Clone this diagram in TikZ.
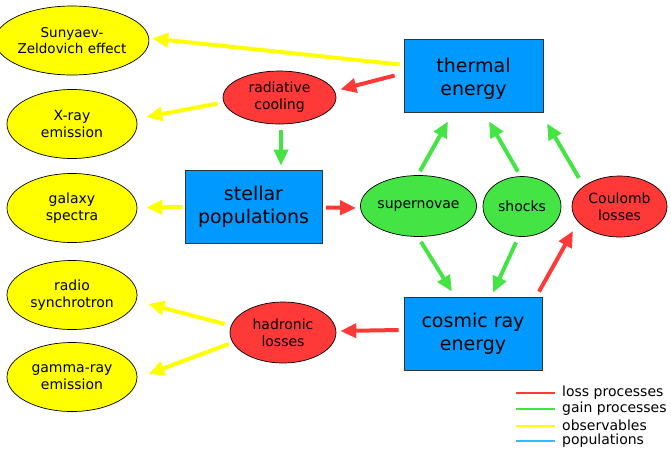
\documentclass[tikz,border=0pt]{standalone}
\usepackage{fontspec}
\setmainfont{DejaVu Sans}
\usetikzlibrary{shapes.geometric,arrows.meta}
\definecolor{cyel}{HTML}{FFFF00}
\definecolor{cred}{HTML}{FF3838}
\definecolor{cgreen}{HTML}{44E444}
\definecolor{cblue}{HTML}{0099FF}
\definecolor{cblueleg}{HTML}{33BBFF}
\begin{document}
\begin{tikzpicture}[x=1pt,y=-1pt,
  txt/.style={font=\fontsize{14}{17}\selectfont, align=center, inner sep=0pt},
  yell/.style={txt, ellipse, draw=black, line width=0.7pt, fill=cyel, minimum width=130pt, minimum height=69pt},
  redell/.style={txt, ellipse, draw=black, line width=0.7pt, fill=cred},
  greenell/.style={txt, ellipse, draw=black, line width=0.7pt, fill=cgreen},
  bbox/.style={font=\fontsize{19}{23}\selectfont, align=center, inner sep=0pt, draw=black!80, line width=0.8pt, fill=cblue},
  arr/.style={line width=4pt, -{Triangle[length=16pt,width=14pt]}},
  obs/.style={arr, draw=cyel, fill=cyel},
  gain/.style={arr, draw=cgreen, fill=cgreen},
  loss/.style={arr, draw=cred, fill=cred},
  leg/.style={line width=2pt},
  legtxt/.style={font=\fontsize{14}{17}\selectfont, anchor=west, inner sep=0pt}
]
\useasboundingbox (0,0) rectangle (671,451);

% observables
\node[yell, font=\fontsize{13.5}{16.5}\selectfont] (sz) at (72,40.5) {Sunyaev-\\Zeldovich effect};
\node[yell] (xray) at (72,124) {X-ray\\emission};
\node[yell] (gal) at (72,208) {galaxy\\spectra};
\node[yell] (radio) at (72,295) {radio\\synchrotron};
\node[yell] (gamma) at (72,377) {gamma-ray\\emission};

% populations
\node[bbox, minimum width=139pt, minimum height=73pt] (thermal) at (473.5,75.5) {\rule{0pt}{20.5pt}thermal\\energy};
\node[bbox, minimum width=137pt, minimum height=73pt] (stellar) at (253.5,206.5) {stellar\\populations};
\node[bbox, minimum width=138pt, minimum height=73pt] (cosmic) at (473,333.5) {cosmic ray\\energy};

% processes
\node[redell, minimum width=113pt, minimum height=53pt] (rad) at (279.5,97.5) {radiative\\cooling};
\node[redell, minimum width=106pt, minimum height=61pt] (had) at (283,332.5) {hadronic\\losses};
\node[greenell, minimum width=109pt, minimum height=61pt] (sn) at (418.5,206) {supernovae};
\node[greenell, minimum width=78pt, minimum height=60pt] (shocks) at (522,206.5) {shocks};
\node[redell, minimum width=95pt, minimum height=61pt] (coul) at (619.5,206.5) {Coulomb\\losses};

% connectors
\draw[obs] ([shift={(-4,-11)}]thermal.west) -- ([shift={(3,-2)}]sz.east);
\draw[loss] ([shift={(-9,0)}]thermal.west) -- ([shift={(4,-8)}]rad.east);
\draw[obs] ([shift={(-5,6)}]rad.west) -- ([shift={(9,-7)}]xray.east);
\draw[gain] ([shift={(1.5,6)}]rad.south) -- ([shift={(27.5,-4)}]stellar.north);
\draw[obs] ([shift={(-2,0.5)}]stellar.west) -- ([shift={(9,-0.5)}]gal.east);
\draw[loss] ([shift={(3.5,1)}]stellar.east) -- ([shift={(-4,2)}]sn.west);
\draw[gain] ([shift={(1.5,-4)}]sn.north) -- ([shift={(-25.5,9)}]thermal.south);
\draw[gain] ([shift={(-4,-4.5)}]shocks.north) -- ([shift={(15.5,9)}]thermal.south);
\draw[gain] ([shift={(-40.5,-28.5)}]coul.center) -- ([shift={(73.5,11)}]thermal.south);
\draw[gain] ([shift={(2.5,5)}]sn.south) -- ([shift={(-21,-5)}]cosmic.north);
\draw[gain] ([shift={(-6,5.5)}]shocks.south) -- ([shift={(20,-4)}]cosmic.north);
\draw[loss] ([shift={(66,-5)}]cosmic.north) -- ([shift={(-46.5,24.5)}]coul.center);
\draw[loss] ([shift={(-5,-3.5)}]cosmic.west) -- ([shift={(4,-1.5)}]had.east);
\draw[obs] ([shift={(-5,-8.5)}]had.west) -- ([shift={(11,9)}]radio.east);
\draw[obs] ([shift={(-1,11.5)}]had.west) -- ([shift={(11,-3)}]gamma.east);

% legend
\coordinate (l1a) at (516,393); \coordinate (l1b) at (555,393);
\coordinate (l2a) at (516,409); \coordinate (l2b) at (555,409);
\coordinate (l3a) at (516,425.5); \coordinate (l3b) at (555,425.5);
\coordinate (l4a) at (516,441); \coordinate (l4b) at (555,441);
\draw[leg, cred] (l1a) -- (l1b);
\draw[leg, cgreen] (l2a) -- (l2b);
\draw[leg, cyel] (l3a) -- (l3b);
\draw[leg, cblueleg] (l4a) -- (l4b);
\node[legtxt] (t1) at (562,393) {loss processes};
\node[legtxt] (t2) at (562,409) {gain processes};
\node[legtxt] (t3) at (562,425.5) {observables};
\node[legtxt] (t4) at (562,441) {populations};
\end{tikzpicture}
\end{document}
